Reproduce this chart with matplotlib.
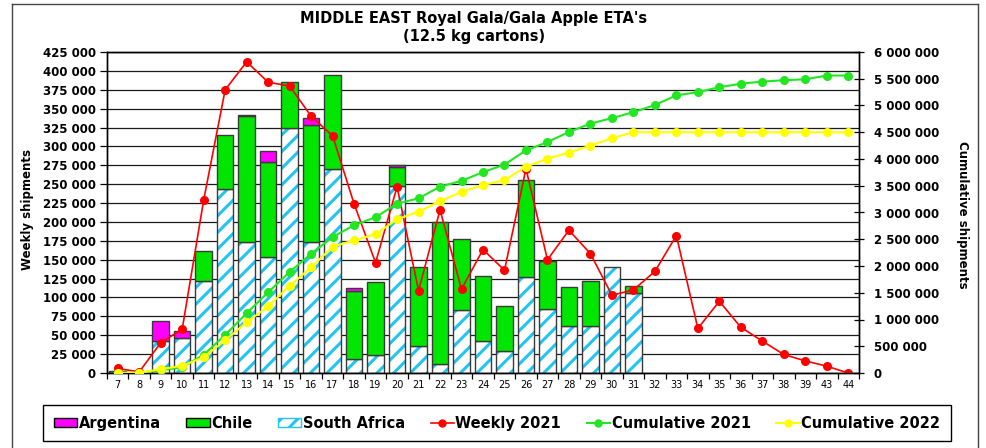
import numpy as np
import matplotlib
matplotlib.use("Agg")
import matplotlib.pyplot as plt
from matplotlib.patches import Patch
from matplotlib.lines import Line2D
from matplotlib.ticker import FuncFormatter, FixedLocator, MultipleLocator

plt.rcParams['font.family'] = ['DejaVu Sans']
plt.rcParams['hatch.linewidth'] = 2.2

weeks = ['7', '8', '9', '10', '11', '12', '13', '14', '15', '16', '17', '18', '19', '20',
         '21', '22', '23', '24', '25', '26', '27', '28', '29', '30', '31', '32', '33', '34',
         '35', '36', '37', '38', '39', '43', '44']

south_africa = [3000, 0, 43000, 46000, 122000, 244000, 174000, 154000, 325000, 174000,
                270000, 18000, 24000, 248000, 36000, 12500, 83000, 43000, 29000, 127000,
                84500, 62000, 62500, 140500, 106000,
                0, 0, 0, 0, 0, 0, 0, 0, 0, 0]
chile = [0, 0, 0, 0, 40000, 71000, 166000, 125000, 60000, 155000,
         124000, 91000, 96000, 25000, 104000, 187000, 95000, 85000, 59500, 129000,
         63500, 52500, 59500, 0, 9500,
         0, 0, 0, 0, 0, 0, 0, 0, 0, 0]
argentina = [0, 0, 26000, 10000, 0, 0, 1500, 15000, 0, 9000,
             0, 3000, 0, 2000, 0, 0, 0, 0, 0, 0,
             0, 0, 0, 0, 0,
             0, 0, 0, 0, 0, 0, 0, 0, 0, 0]
weekly_2021 = [6000, 1500, 40000, 58000, 229000, 375000, 412000, 385000, 380000, 340000,
               314000, 224000, 146000, 246500, 109000, 216000, 111000, 163500, 136000, 270500,
               150000, 189000, 158000, 103000, 110000, 134500, 182000, 59000, 95000, 60500,
               42300, 24500, 16000, 9000, 0]
cumulative_2021 = [6000, 7500, 48000, 110000, 340000, 712000, 1118000, 1510000, 1888000, 2228000,
                   2541000, 2763000, 2911000, 3165000, 3265000, 3483000, 3591000, 3755000, 3895000, 4162000,
                   4316000, 4505000, 4662000, 4763000, 4875000, 5008000, 5190000, 5250000, 5342000, 5407000,
                   5447000, 5472000, 5490000, 5560000, 5560000]
cumulative_2022 = [3000, 3000, 72000, 135000, 295000, 610000, 948000, 1245000, 1630000, 1972000,
                   2362000, 2480000, 2595000, 2872000, 3015000, 3210000, 3386000, 3513000, 3605000, 3857000,
                   4007000, 4120000, 4250000, 4390000, 4500000, 4500000, 4500000, 4500000, 4500000, 4500000,
                   4500000, 4500000, 4500000, 4500000, 4500000]

SA_BLUE = '#22C4F2'
GREEN_BAR = '#00E600'
MAGENTA = '#FF00FF'
EDGE = '#3a3a3a'
RED = '#FF0000'
GREEN_LINE = '#22E622'
YELLOW = '#FFFF00'

W, H = 986, 448
fig = plt.figure(figsize=(W / 100, H / 100), dpi=100)
ax = fig.add_axes([107 / W, 1 - 373 / H, 752 / W, 321 / H])

x = np.arange(len(weeks))
sa = np.array(south_africa, float)
ch = np.array(chile, float)
ar = np.array(argentina, float)
bw = 0.77

m = sa > 0
ax.bar(x[m], sa[m], width=bw, color='white', edgecolor=SA_BLUE, hatch='//', linewidth=0, zorder=2)
ax.bar(x[m], sa[m], width=bw, facecolor='none', edgecolor=EDGE, linewidth=1.0, zorder=3)
m = ch > 0
ax.bar(x[m], ch[m], bottom=sa[m], width=bw, color=GREEN_BAR, edgecolor=EDGE, linewidth=1.0, zorder=3)
m = ar > 0
ax.bar(x[m], ar[m], bottom=(sa + ch)[m], width=bw, color=MAGENTA, edgecolor=EDGE, linewidth=1.0, zorder=3)

ax.plot(x, weekly_2021, color=RED, lw=1.2, marker='o', ms=5.5, zorder=5)

ax.set_xlim(-0.5, len(weeks) - 0.5)
ax.set_ylim(0, 425000)
ax.yaxis.set_major_locator(MultipleLocator(25000))
fmt = FuncFormatter(lambda v, p: f"{v:,.0f}".replace(",", " "))
ax.yaxis.set_major_formatter(fmt)
ax.grid(axis='y', color='#1a1a1a', lw=0.9, zorder=0)
ax.set_axisbelow(True)

ax.set_xticks(x)
ax.set_xticklabels(weeks, fontsize=7)
ax.xaxis.set_minor_locator(FixedLocator(np.arange(-0.5, len(weeks), 1.0)))
ax.tick_params(axis='x', which='major', length=0, pad=5)
ax.tick_params(axis='x', which='minor', length=4, direction='out', width=0.9)
ax.tick_params(axis='y', which='major', length=5, direction='out', pad=3, labelsize=8.5, width=0.9)
for t in ax.get_yticklabels():
    t.set_fontweight('bold')

ax2 = ax.twinx()
ax2.plot(x, cumulative_2021, color=GREEN_LINE, lw=1.5, marker='o', ms=5.5, zorder=5)
ax2.plot(x, cumulative_2022, color=YELLOW, lw=1.5, marker='o', ms=5.5, zorder=6)
ax2.set_ylim(0, 6000000)
ax2.yaxis.set_major_locator(MultipleLocator(500000))
ax2.yaxis.set_major_formatter(fmt)
ax2.tick_params(axis='y', length=7, direction='inout', pad=7, labelsize=8.5, width=0.9)
for t in ax2.get_yticklabels():
    t.set_fontweight('bold')

for a in (ax, ax2):
    for s in a.spines.values():
        s.set_color('black')
        s.set_linewidth(1.0)

fig.text(474 / W, 1 - 27.5 / H, "MIDDLE EAST Royal Gala/Gala Apple ETA's\n(12.5 kg cartons)",
         ha='center', va='center', fontsize=10.5, fontweight='bold', linespacing=1.2)
fig.text(28 / W, 1 - 210 / H, "Weekly shipments", rotation=90, ha='center', va='center',
         fontsize=8.5, fontweight='bold')
fig.text(963 / W, 1 - 215 / H, "Cumulative shipments", rotation=-90, ha='center', va='center',
         fontsize=8.5, fontweight='bold')

handles = [
    Patch(facecolor=MAGENTA, edgecolor='black', lw=1.0),
    Patch(facecolor=GREEN_BAR, edgecolor='black', lw=1.0),
    Patch(facecolor='white', edgecolor=SA_BLUE, hatch='//', lw=1.0),
    Line2D([], [], color=RED, lw=1.2, marker='o', ms=5),
    Line2D([], [], color=GREEN_LINE, lw=1.5, marker='o', ms=5),
    Line2D([], [], color=YELLOW, lw=1.5, marker='o', ms=5),
]
labels = ['Argentina', 'Chile', 'South Africa', 'Weekly 2021', 'Cumulative 2021', 'Cumulative 2022']
leg = fig.legend(handles, labels, loc='center', ncol=6, mode='expand',
                 bbox_to_anchor=(43 / W, 1 - 443 / H, 908 / W, 40 / H),
                 prop={'weight': 'bold', 'size': 10.5}, handlelength=1.6, handleheight=0.6,
                 handletextpad=0.1, columnspacing=0.5, borderpad=0.75, borderaxespad=0,
                 frameon=True, fancybox=False, framealpha=1)
leg.get_frame().set_edgecolor('black')
leg.get_frame().set_linewidth(1.0)

# outer chart border (left, top, right)
fig.add_artist(Line2D([12 / W, 12 / W], [0, 1 - 4 / H], transform=fig.transFigure, color='#444444', lw=1))
fig.add_artist(Line2D([12 / W, 978 / W], [1 - 4 / H, 1 - 4 / H], transform=fig.transFigure, color='#444444', lw=1))
fig.add_artist(Line2D([978 / W, 978 / W], [0, 1 - 4 / H], transform=fig.transFigure, color='#444444', lw=1))

fig.savefig('out.png', dpi=100)
